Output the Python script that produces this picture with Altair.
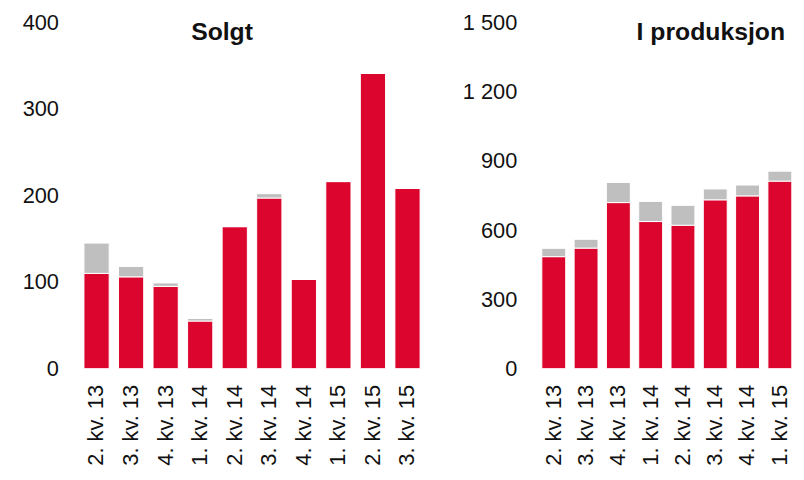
import altair as alt
import pandas as pd

# Data
solgt_kv = ["2. kv. 13", "3. kv. 13", "4. kv. 13", "1. kv. 14", "2. kv. 14",
            "3. kv. 14", "4. kv. 14", "1. kv. 15", "2. kv. 15", "3. kv. 15"]
solgt_rod = [110, 106, 95, 55, 164, 197, 103, 216, 341, 208]
solgt_gra = [35, 12, 4, 3, 0, 5, 0, 0, 0, 0]

prod_kv = ["2. kv. 13", "3. kv. 13", "4. kv. 13", "1. kv. 14", "2. kv. 14",
           "3. kv. 14", "4. kv. 14", "1. kv. 15"]
prod_rod = [485, 522, 719, 637, 621, 731, 748, 812]
prod_gra = [36, 38, 87, 87, 86, 47, 47, 43]

serier = ["rod", "gra"]
farger = ["#DC052D", "#BFBFBF"]

FONT = "Liberation Sans"


def lag_df(kv, rod, gra):
    rows = []
    for k, r, g in zip(kv, rod, gra):
        rows.append({"kv": k, "serie": "rod", "rekke": 0, "verdi": r})
        rows.append({"kv": k, "serie": "gra", "rekke": 1, "verdi": g})
    return pd.DataFrame(rows)


def panel(df, kv, tittel, domain, ticks, width, tx, pad_inner):
    bars = alt.Chart(df).mark_bar(stroke="white", strokeWidth=1).encode(
        x=alt.X("kv:N", sort=kv, title=None,
                scale=alt.Scale(paddingInner=pad_inner, paddingOuter=pad_inner / 2),
                axis=alt.Axis(labelAngle=270, ticks=False, domain=False,
                              labelFontSize=22, labelPadding=16,
                              labelFont=FONT, labelColor="#111111")),
        y=alt.Y("verdi:Q", stack="zero", title=None,
                scale=alt.Scale(domain=domain, nice=False),
                axis=alt.Axis(values=ticks, grid=False, domain=False, ticks=False,
                              labelFontSize=22, labelPadding=21, labelFont=FONT,
                              labelColor="#111111",
                              labelExpr="replace(format(datum.value, ','), ',', ' ')")),
        color=alt.Color("serie:N", scale=alt.Scale(domain=serier, range=farger), legend=None),
        order=alt.Order("rekke:Q"),
    )
    tekst = alt.Chart(pd.DataFrame({"t": [tittel]})).mark_text(
        align="left", baseline="alphabetic", fontSize=25, fontWeight="bold",
        font=FONT, color="#111111"
    ).encode(text="t:N", x=alt.value(tx), y=alt.value(18))
    return alt.layer(bars, tekst).properties(width=width, height=350)


venstre = panel(lag_df(solgt_kv, solgt_rod, solgt_gra), solgt_kv, "Solgt",
                [0, 400], [0, 100, 200, 300, 400], 349, 113, 0.27)
hoyre = panel(lag_df(prod_kv, prod_rod, prod_gra), prod_kv, "I produksjon",
              [0, 1500], [0, 300, 600, 900, 1200, 1500], 261, 100, 0.26)

chart = alt.hconcat(venstre, hoyre, spacing=37).properties(
    padding={"left": 14, "top": 1, "right": 0, "bottom": 0}
).configure_view(stroke=None)

chart.save("out.html", embed_options={"renderer": "svg", "actions": False})
